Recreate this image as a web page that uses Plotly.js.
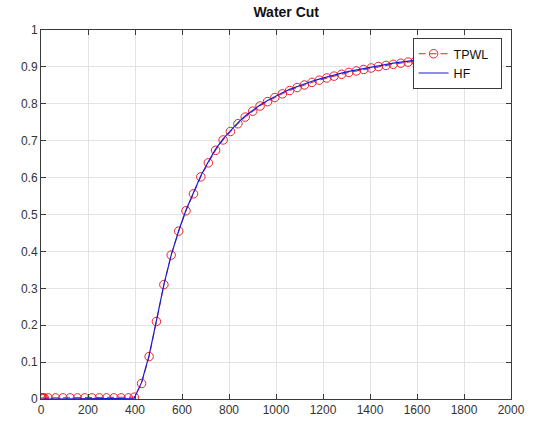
<!DOCTYPE html>
<html>
<head>
<meta charset="utf-8">
<script src="https://cdn.plot.ly/plotly-3.0.1.min.js"></script>
<style>html,body{margin:0;padding:0;background:#fff;}#chart{width:535px;height:427px;}</style>
</head>
<body>
<div id="chart"></div>
<script>
const timeDays = [0, 2, 5, 9, 14, 31, 62, 93, 124, 155, 186, 217, 248, 279, 310, 341, 372, 397,
  428, 460, 491, 523, 554, 586, 617, 649, 680, 712, 743, 775, 806, 838, 869, 901, 932, 964, 995,
  1027, 1058, 1090, 1121, 1153, 1184, 1216, 1247, 1279, 1310, 1342, 1373, 1405, 1436, 1468, 1499,
  1531, 1562, 1594, 1625, 1657, 1688, 1720, 1751, 1783, 1814, 1846];
const tpwlCut = [0.003, 0.003, 0.003, 0.003, 0.003, 0.003, 0.003, 0.003, 0.003, 0.003, 0.003, 0.003, 0.003, 0.003, 0.003, 0.003, 0.003, 0.005,
  0.042, 0.115, 0.21, 0.31, 0.39, 0.455, 0.51, 0.556, 0.602, 0.64, 0.674, 0.702, 0.725, 0.746, 0.764, 0.78, 0.794, 0.806, 0.817,
  0.827, 0.836, 0.844, 0.851, 0.858, 0.864, 0.87, 0.875, 0.88, 0.885, 0.889, 0.893, 0.897, 0.901, 0.904, 0.907,
  0.91, 0.913, 0.916, 0.918, 0.921, 0.923, 0.925, 0.927, 0.929, 0.931, 0.933];
const hfCut = [0, 0, 0, 0, 0, 0, 0, 0, 0, 0, 0, 0, 0, 0, 0, 0, 0, 0.002,
  0.045, 0.118, 0.212, 0.31, 0.39, 0.456, 0.512, 0.559, 0.605, 0.643, 0.677, 0.705, 0.728, 0.749, 0.767, 0.783, 0.797, 0.809, 0.82,
  0.83, 0.839, 0.847, 0.854, 0.861, 0.867, 0.873, 0.878, 0.883, 0.888, 0.892, 0.896, 0.9, 0.904, 0.907, 0.91,
  0.913, 0.916, 0.919, 0.921, 0.924, 0.926, 0.928, 0.93, 0.932, 0.934, 0.936];
const xTicks = [0, 200, 400, 600, 800, 1000, 1200, 1400, 1600, 1800, 2000];
const yTicks = [0, 0.1, 0.2, 0.3, 0.4, 0.5, 0.6, 0.7, 0.8, 0.9, 1];
const yTickText = ['0', '0.1', '0.2', '0.3', '0.4', '0.5', '0.6', '0.7', '0.8', '0.9', '1'];

const traces = [
  {
    x: timeDays, y: tpwlCut, name: 'TPWL\u00a0\u00a0', type: 'scatter', mode: 'lines+markers',
    line: {color: '#e8232a', width: 1, dash: '7px,4px'},
    marker: {symbol: 'circle-open', size: 8.5, color: '#e8232a', line: {width: 1, color: '#e8232a'}}
  },
  {
    x: timeDays, y: hfCut, name: 'HF', type: 'scatter', mode: 'lines',
    line: {color: '#1a1ad6', width: 1.2}
  }
];

const axisCommon = {
  showline: true, linecolor: '#3a3a3a', linewidth: 1, mirror: 'ticks',
  ticks: 'inside', ticklen: 5, tickcolor: '#3a3a3a', tickwidth: 1,
  showgrid: true, gridcolor: '#e3e3e3', gridwidth: 1, zeroline: false,
  tickfont: {family: 'Liberation Sans, Arial, sans-serif', size: 12, color: '#333'}
};

const layout = {
  width: 535, height: 427,
  margin: {l: 41, r: 24, t: 30, b: 28, pad: 0},
  paper_bgcolor: '#fff', plot_bgcolor: '#fff',
  title: {text: '<b>Water Cut</b>', x: 0.535, xanchor: 'center', y: 0.972, yanchor: 'middle',
    font: {family: 'Liberation Sans, Arial, sans-serif', size: 14, color: '#111'}},
  xaxis: Object.assign({}, axisCommon, {range: [0, 2000], tickvals: xTicks, ticktext: xTicks.map(String)}),
  yaxis: Object.assign({}, axisCommon, {range: [0, 1], tickvals: yTicks, ticktext: yTickText}),
  showlegend: true,
  legend: {x: 0.98, xanchor: 'right', y: 0.978, yanchor: 'top', bgcolor: '#fff',
    bordercolor: '#3a3a3a', borderwidth: 1, tracegroupgap: 0, itemwidth: 30,
    font: {family: 'Liberation Sans, Arial, sans-serif', size: 12.5, color: '#111'}}
};

Plotly.newPlot('chart', traces, layout, {displayModeBar: false, staticPlot: true});
</script>
</body>
</html>
